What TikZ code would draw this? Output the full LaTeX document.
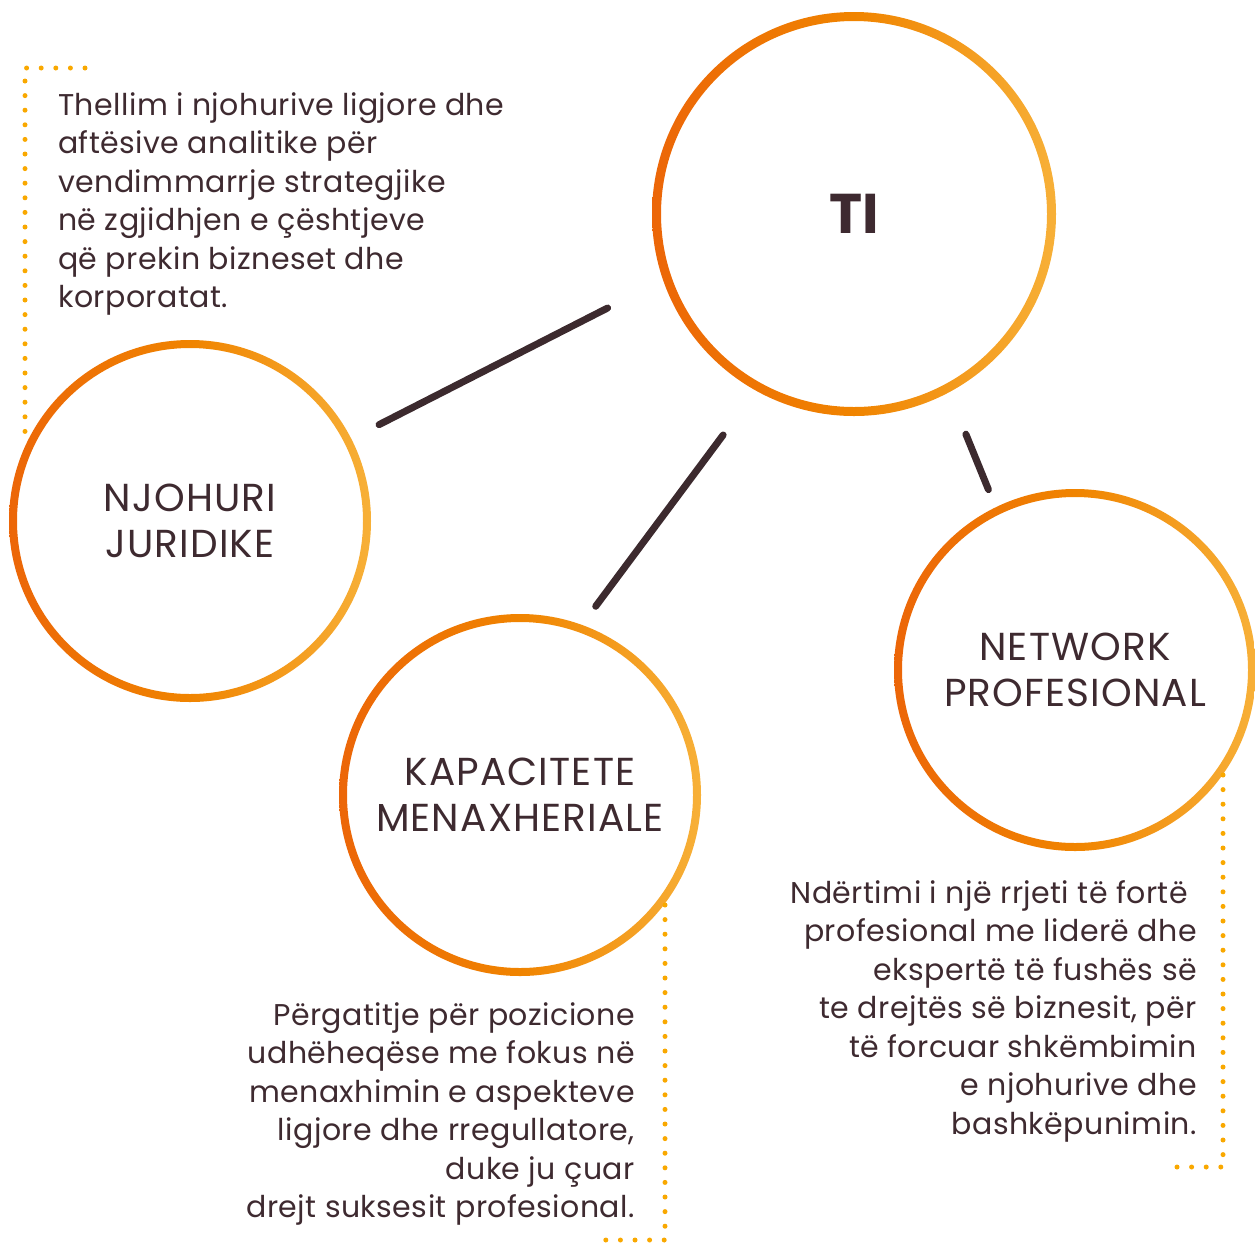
\documentclass[tikz,border=0pt]{standalone}
\usepackage{fontspec}
\setmainfont{Poppins}
\usetikzlibrary{positioning}
\definecolor{tiText}{RGB}{62,42,48}
\definecolor{tiLine}{RGB}{60,42,46}
\definecolor{tiOrangeDark}{RGB}{236,102,8}
\definecolor{tiOrangeMid}{RGB}{240,132,0}
\definecolor{tiOrangeLight}{RGB}{247,176,56}
\definecolor{tiDots}{RGB}{249,168,0}

\begin{document}
\begin{tikzpicture}[
    x=1pt, y=-1pt,
    core/.style={
        circle,
        inner sep=0pt,
        minimum size=404pt,
        text=tiText,
        font=\fontsize{56}{60}\selectfont\bfseries
    },
    skill/.style={
        circle,
        inner sep=0pt,
        minimum size=362pt,
        align=center,
        text=tiText,
        font=\fontsize{39}{46}\selectfont\addfontfeature{LetterSpace=3}
    },
    ring/.style={
        even odd rule,
        left color=tiOrangeDark,
        right color=tiOrangeLight,
        middle color=tiOrangeMid
    },
    link/.style={draw=tiLine, line width=7pt, line cap=round},
    note/.style={inner sep=0pt, text=tiText, font=\fontsize{30}{38.5}\selectfont\addfontfeature{LetterSpace=1.5}},
    dots/.style={draw=tiDots, line width=5pt, line cap=round, dash pattern=on 0pt off 14.6pt}
]
    \useasboundingbox (0,0) rectangle (1255,1243);

    % Circles
    \node[core] (ti) at (854,214) {TI};
    \node[skill] (njohuri) at (190,521) {NJOHURI\\JURIDIKE};
    \node[skill] (kapacitete) at (520,795) {KAPACITETE\\MENAXHERIALE};
    \node[skill] (network) at (1075,670) {NETWORK\\PROFESIONAL};

    \shade[ring] (ti.center) circle (202) circle (193);
    \shade[ring] (njohuri.center) circle (181) circle (173);
    \shade[ring] (kapacitete.center) circle (181) circle (173);
    \shade[ring] (network.center) circle (181) circle (173);

    % Links
    \draw[link, shorten <=62pt, shorten >=31pt] (ti.199.2) -- (njohuri.27.7);
    \draw[link, shorten <=55pt, shorten >=23pt] (ti.241.1) -- (kapacitete.70.9);
    \draw[link, shorten <=45pt, shorten >=19pt] (ti.298.7) -- (network.116);

    % Notes
    \node[note, anchor=north west, align=left] (noteNjohuri) at (58,92) {Thellim i njohurive ligjore dhe\\aftësive analitike për\\vendimmarrje strategjike\\në zgjidhjen e çështjeve\\që prekin bizneset dhe\\korporatat.};
    \node[note, anchor=north east, align=right] (noteKapacitete) at (635,1002) {Përgatitje për pozicione\\udhëheqëse me fokus në\\menaxhimin e aspekteve\\ligjore dhe rregullatore,\\duke ju çuar\\drejt suksesit profesional.};
    \node[note, anchor=north east, align=right] (noteNetwork) at (1197,880) {Ndërtimi i një rrjeti të fortë\hspace{9pt}\null\\profesional me liderë dhe\\ekspertë të fushës së\\te drejtës së biznesit, për\\të forcuar shkëmbimin\\e njohurive dhe\\bashkëpunimin.};

    % Dotted frames
    \draw[dots] (85,68) -- (25,68) -- (25,435);
    \draw[dots] (665,905) -- (665,1240) -- (605,1240);
    \draw[dots] (1223,775) -- (1223,1167) -- (1163,1167);

\end{tikzpicture}
\end{document}
